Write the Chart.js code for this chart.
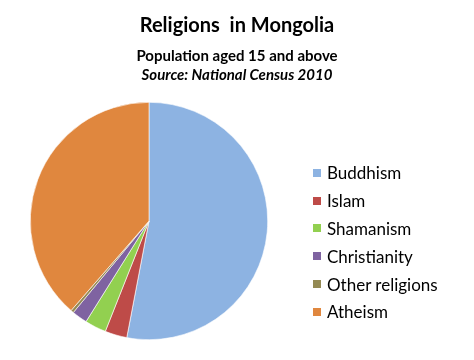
<!DOCTYPE html>
<html>
<head>
<meta charset="utf-8">
<script src="https://cdn.jsdelivr.net/npm/chart.js@4"></script>
<style>
  html, body { margin: 0; padding: 0; background: #fff; }
  #wrap { position: relative; width: 474px; height: 360px; font-family: Lato, "Open Sans", sans-serif; color: #000; }
  #chartBox { position: absolute; left: 0; top: 0; width: 474px; height: 360px; }
  .t { position: absolute; left: 0; width: 474px; text-align: center; white-space: nowrap; }
  #title { top: 12px; font-size: 20px; font-weight: bold; }
  #sub1 { top: 46px; font-size: 15px; font-weight: bold; }
  #sub2 { top: 65px; font-size: 15px; font-weight: bold; font-style: italic; }
  #legend { position: absolute; left: 313px; top: 159px; }
  .li { height: 27.8px; display: flex; align-items: center; font-size: 17px; margin: 0; }
  .li span.sw { display: inline-block; width: 8px; height: 8px; margin-right: 6px; }
</style>
</head>
<body>
<div id="wrap">
  <div id="chartBox"><canvas id="pie"></canvas></div>
  <div class="t" id="title">Religions&nbsp; in Mongolia</div>
  <div class="t" id="sub1">Population aged 15 and above</div>
  <div class="t" id="sub2">Source: National Census 2010</div>
  <div id="legend"></div>
</div>
<script>
// данные переписи 2010 (в процентах)
const religions = ['Buddhism', 'Islam', 'Shamanism', 'Christianity', 'Other religions', 'Atheism'];
const shares = [53.0, 3.0, 2.9, 2.1, 0.4, 38.6];
const colors = ['#8db3e2', '#be4b48', '#92d050', '#7f63a1', '#948a54', '#e0873e'];

document.addEventListener('DOMContentLoaded', function () {
  try {
    const legend = document.getElementById('legend');
    religions.forEach(function (name, i) {
      const row = document.createElement('div');
      row.className = 'li';
      const sw = document.createElement('span');
      sw.className = 'sw';
      sw.style.background = colors[i];
      row.appendChild(sw);
      row.appendChild(document.createTextNode(name));
      legend.appendChild(row);
    });

    new Chart(document.getElementById('pie').getContext('2d'), {
      type: 'pie',
      data: {
        labels: religions,
        datasets: [{ data: shares, backgroundColor: colors, borderColor: '#ffffff', borderWidth: 0.6 }]
      },
      options: {
        responsive: true,
        maintainAspectRatio: false,
        animation: false,
        layout: { padding: { left: 30, top: 102, right: 206, bottom: 20 } },
        plugins: {
          legend: { display: false },
          tooltip: { enabled: false }
        }
      }
    });
  } catch (e) {
    console.error('[pie] init failed', e);
  }
});
</script>
</body>
</html>
